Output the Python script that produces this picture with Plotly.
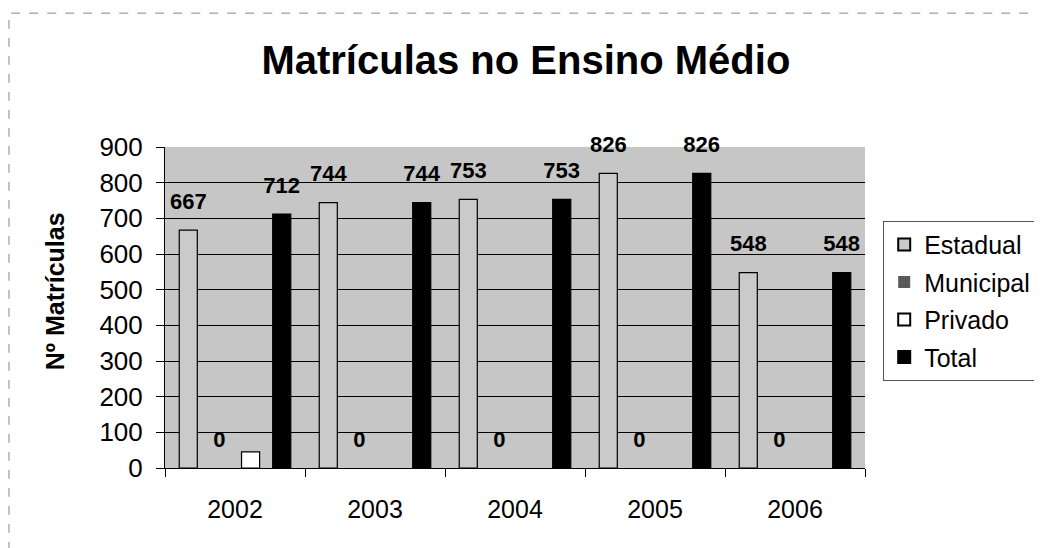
import plotly.graph_objects as go

years = ["2002", "2003", "2004", "2005", "2006"]
estadual = [667, 744, 753, 826, 548]
municipal = [0, 0, 0, 0, 0]
privado = [45, 0, 0, 0, 0]
total = [712, 744, 753, 826, 548]

series = [
    ("Estadual", estadual, True),
    ("Municipal", municipal, True),
    ("Privado", privado, False),
    ("Total", total, True),
]

FONT = "Liberation Sans, Arial"
label_font = dict(family=FONT, size=22, color="black")

bar_styles = {
    "Estadual": dict(color="#cacaca", line=dict(color="black", width=1.2)),
    "Municipal": dict(color="#6e6e6e", line=dict(color="black", width=0),
                      pattern=dict(shape=".", fgcolor="#222222", size=3, solidity=0.5)),
    "Privado": dict(color="white",
                    line=dict(color="black", width=[1.2 if v > 0 else 0 for v in privado])),
    "Total": dict(color="black", line=dict(color="black", width=1.2)),
}

fig = go.Figure()
for name, vals, _ in series:
    fig.add_trace(go.Bar(name=name, x=years, y=vals, marker=bar_styles[name],
                         legendgroup=name, hoverinfo="x+y+name"))

# data labels, grouped so they sit above the matching bars
for name, vals, labelled in series:
    fig.add_trace(go.Scatter(
        x=years, y=vals, orientation="v", mode="markers+text",
        marker=dict(size=24, opacity=0),
        text=[f"<b>{v}</b>" for v in vals] if labelled else ["" for _ in vals],
        textposition="top center", textfont=label_font,
        cliponaxis=False, showlegend=False, hoverinfo="skip"))

fig.update_layout(
    width=1042, height=548,
    margin=dict(l=157, r=185, t=139, b=88, autoexpand=False),
    paper_bgcolor="white",
    plot_bgcolor="#c6c6c6",
    barmode="group", bargap=0.11, bargroupgap=0.42,
    scattermode="group", scattergap=0.11,
    font=dict(family=FONT, size=25, color="black"),
    title=dict(text="<b>Matrículas no Ensino Médio</b>", x=0.497, xanchor="center",
               y=0.905, yanchor="middle", font=dict(size=40)),
    xaxis=dict(showgrid=False, linecolor="black", linewidth=1, ticks="outside",
               tickson="boundaries", ticklen=8, tickcolor="black",
               tickfont=dict(size=25), ticklabelstandoff=19),
    yaxis=dict(range=[0, 900], dtick=100, showgrid=True, gridcolor="black", gridwidth=1,
               linecolor="black", linewidth=1, ticks="outside", ticklen=8, tickcolor="black",
               tickfont=dict(size=26), zeroline=False, ticklabelstandoff=8),
    legend=dict(x=1.026, xanchor="left", y=0.77, yanchor="top",
                bordercolor="#555555", borderwidth=1, bgcolor="white",
                font=dict(size=25), itemsizing="constant", tracegroupgap=2),
    annotations=[dict(text="<b>Nº Matrículas</b>", textangle=-90, xref="paper", yref="paper",
                      x=-0.157, y=0.551, xanchor="center", yanchor="middle",
                      showarrow=False, font=dict(size=25))],
    shapes=[dict(type="rect", xref="paper", yref="paper", x0=-0.2229, x1=1.27,
                 y0=-0.35, y1=1.417, line=dict(color="#888888", width=1, dash="dash"))],
)

fig.write_html("out.html")
